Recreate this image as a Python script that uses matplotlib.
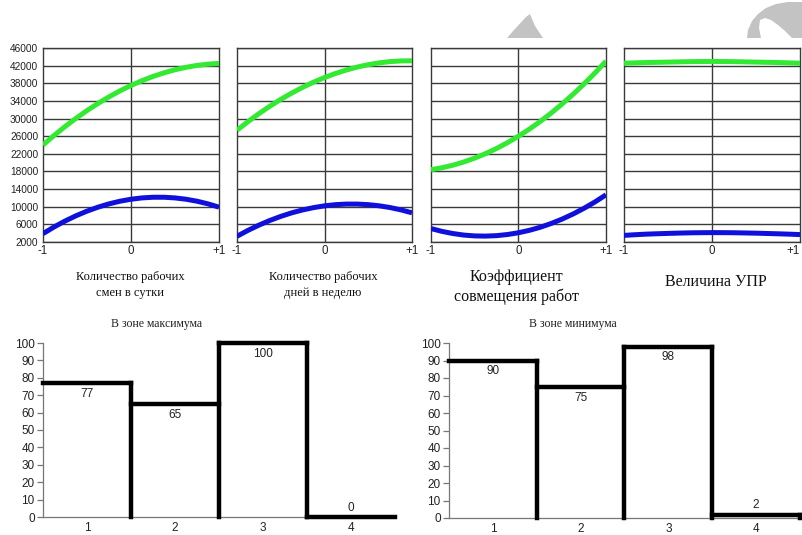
import numpy as np
import matplotlib
matplotlib.use("Agg")
import matplotlib.pyplot as plt
from matplotlib.patches import Polygon

W, H = 803, 535
SANS = ["Liberation Sans", "DejaVu Sans"]
SERIF = ["Liberation Serif", "DejaVu Serif"]

# ---- response curves (factor level from -1 to +1) ----
levels = [-1, -0.875, -0.75, -0.625, -0.5, -0.375, -0.25, -0.125, 0,
          0.125, 0.25, 0.375, 0.5, 0.625, 0.75, 0.875, 1]

shifts_max = [24000, 26150, 28170, 30060, 31810, 33430, 34920, 36280, 37500,
              38590, 39550, 40370, 41060, 41620, 42050, 42340, 42500]
shifts_min = [3900, 5400, 6750, 7950, 9000, 9900, 10650, 11250, 11700,
              12000, 12150, 12150, 12000, 11700, 11250, 10650, 9900]

days_max = [27350, 29290, 31100, 32790, 34350, 35770, 37080, 38250, 39300,
            40220, 41010, 41680, 42220, 42630, 42910, 43070, 43100]
days_min = [3300, 4630, 5820, 6880, 7810, 8610, 9270, 9800, 10200,
            10470, 10600, 10600, 10470, 10210, 9810, 9280, 8620]

combo_max = [18400, 18840, 19420, 20150, 21030, 22050, 23220, 24540, 26000,
             27610, 29370, 31270, 33330, 35520, 37870, 40360, 43000]
combo_min = [5050, 4410, 3920, 3570, 3380, 3340, 3440, 3700, 4100,
             4650, 5350, 6210, 7210, 8360, 9660, 11100, 12700]

upr_max = [42550, 42630, 42700, 42750, 42800, 42850, 42900, 42930, 42950,
           42930, 42900, 42850, 42800, 42750, 42700, 42630, 42550]
upr_min = [3500, 3650, 3780, 3870, 3950, 4020, 4080, 4110, 4130,
           4120, 4100, 4050, 4000, 3930, 3860, 3780, 3680]

y_ticks = list(range(2000, 46001, 4000))
x_tick_labels = ["-1", "0", "+1"]

panel_titles = [
    "Количество рабочих\nсмен в сутки",
    "Количество рабочих\nдней в неделю",
    "Коэффициент\nсовмещения работ",
    "Величина УПР",
]

# ---- bar charts ----
groups = ["1", "2", "3", "4"]
zone_max = [77, 65, 100, 0]
zone_min = [90, 75, 98, 2]
bar_ticks = list(range(0, 101, 10))

GREEN = "#33ea33"
BLUE = "#1010dc"


def axes_px(fig, x0, y0, x1, y1):
    """Add axes given pixel box (left, top, right, bottom)."""
    return fig.add_axes([x0 / W, 1 - y1 / H, (x1 - x0) / W, (y1 - y0) / H])


fig = plt.figure(figsize=(W / 100, H / 100), dpi=100)
fig.patch.set_facecolor("white")

# light grey decorative shapes at the top
tri = [(507, 38), (514, 30), (526, 17), (530, 14), (532, 19), (535, 26), (543, 38)]
arc = [(747, 38), (748, 30), (752, 21), (758, 14), (766, 8), (776, 4), (788, 2),
       (803, 2), (803, 38), (792, 38), (785, 31), (778, 25), (771, 20), (765, 18),
       (760, 20), (759, 28), (761, 38)]
for pts in (tri, arc):
    fig.patches.append(Polygon([(x / W, 1 - y / H) for x, y in pts], closed=True,
                               transform=fig.transFigure, facecolor="#c3c3c3",
                               edgecolor="none"))

panel_boxes = [(43, 48, 219, 242), (237, 48, 412, 242), (431, 48, 606, 242), (624, 48, 800, 242)]
curves = [(shifts_max, shifts_min), (days_max, days_min), (combo_max, combo_min), (upr_max, upr_min)]

for i, (box, (top_curve, low_curve)) in enumerate(zip(panel_boxes, curves)):
    ax = axes_px(fig, *box)
    ax.set_xlim(-1, 1)
    ax.set_ylim(2000, 46000)
    ax.set_yticks(y_ticks)
    ax.set_xticks([-1, 0, 1])
    ax.set_xticklabels(x_tick_labels, fontfamily=SANS, fontsize=8.3, color="#222222")
    if i == 0:
        ax.set_yticklabels([str(v) for v in y_ticks], fontfamily=SANS, fontsize=7.3,
                           color="#222222")
    else:
        ax.set_yticklabels([])
    if i == 3:
        last = ax.get_xticklabels()[-1]
        last.set_horizontalalignment("right")
    ax.tick_params(length=0, pad=2.5)
    ax.tick_params(axis="y", pad=3.5)
    ax.yaxis.grid(True, color="#3a3a3a", linewidth=1.0)
    ax.axvline(0, color="#3a3a3a", linewidth=1.0, zorder=1)
    for s in ax.spines.values():
        s.set_color("#3a3a3a")
        s.set_linewidth(1.0)
    ax.plot(levels, top_curve, color=GREEN, linewidth=3.6, solid_capstyle="butt",
            solid_joinstyle="round", zorder=3)
    ax.plot(levels, low_curve, color=BLUE, linewidth=3.6, solid_capstyle="butt",
            solid_joinstyle="round", zorder=3)

# captions under the response panels
fig.text(130 / W, 1 - 285 / H, panel_titles[0], ha="center", va="center",
         fontfamily=SERIF, fontsize=9, linespacing=1.35, color="#111111")
fig.text(323 / W, 1 - 285 / H, panel_titles[1], ha="center", va="center",
         fontfamily=SERIF, fontsize=9, linespacing=1.35, color="#111111")
fig.text(516 / W, 1 - 287 / H, panel_titles[2], ha="center", va="center",
         fontfamily=SERIF, fontsize=11.5, linespacing=1.25, color="#111111")
fig.text(716 / W, 1 - 282 / H, panel_titles[3], ha="center", va="center",
         fontfamily=SERIF, fontsize=11.5, color="#111111")


def step_bars(ax, values):
    xs = np.arange(1, len(values) + 1)
    ax.bar(xs, values, width=1.0, color="white", linewidth=0, zorder=1)
    lw = 3.2
    kw = dict(color="black", linewidth=lw, clip_on=False, capstyle="projecting", zorder=3)
    ax.hlines(values, xs - 0.5, xs + 0.5, **kw)
    for k in range(len(values) - 1):
        ax.vlines(xs[k] + 0.5, 0, max(values[k], values[k + 1]), **kw)
    ax.vlines(xs[-1] + 0.5, 0, values[-1], **kw)
    for x, v in zip(xs, values):
        if v >= 10:
            ax.annotate(str(v), (x, v), xytext=(0, -3.5), textcoords="offset points",
                        ha="center", va="top", fontfamily=SANS, fontsize=8.5, color="#222222")
        else:
            ax.annotate(str(v), (x, v), xytext=(0, 2.5), textcoords="offset points",
                        ha="center", va="bottom", fontfamily=SANS, fontsize=8.5, color="#222222")


bar_boxes = [(43, 343, 395, 517), (449, 343, 800, 518)]
bar_titles = ["В зоне максимума", "В зоне минимума"]
title_x = [157, 573]

for box, vals, title, tx in zip(bar_boxes, [zone_max, zone_min], bar_titles, title_x):
    ax = axes_px(fig, *box)
    ax.set_xlim(0.5, 4.5)
    ax.set_ylim(0, 100)
    ax.set_yticks(bar_ticks)
    ax.set_yticklabels([str(v) for v in bar_ticks], fontfamily=SANS, fontsize=8.5,
                       color="#222222")
    ax.set_xticks(range(1, 5))
    ax.set_xticklabels(groups, fontfamily=SANS, fontsize=8.5, color="#222222")
    ax.tick_params(axis="y", length=4, width=0.9, color="#777777", pad=2)
    ax.tick_params(axis="x", length=0, pad=3.5)
    for side in ("top", "right"):
        ax.spines[side].set_visible(False)
    for side in ("left", "bottom"):
        ax.spines[side].set_color("#777777")
        ax.spines[side].set_linewidth(0.9)
    ax.set_facecolor("none")
    step_bars(ax, vals)
    fig.text(tx / W, 1 - 324 / H, title, ha="center", va="center",
             fontfamily=SERIF, fontsize=8.5, color="#222222")

fig.savefig("out.png", dpi=100, facecolor="white")
